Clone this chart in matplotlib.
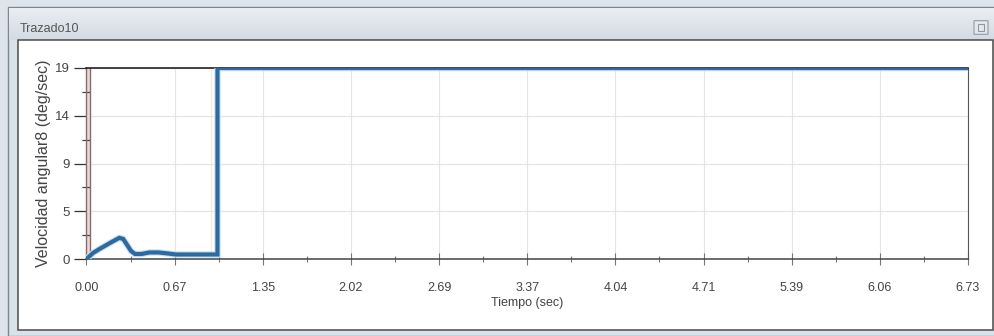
import matplotlib
matplotlib.use("Agg")
import matplotlib.pyplot as plt
from matplotlib.patches import Rectangle, FancyBboxPatch
import numpy as np

# angular velocity trace (deg/sec) vs time (sec)
TIME = [0.00, 0.05, 0.10, 0.18, 0.25, 0.28, 0.31, 0.34, 0.37, 0.42, 0.48,
        0.55, 0.62, 0.68, 0.80, 1.00, 1.00, 6.73]
VEL = [0.0, 0.6, 1.0, 1.6, 2.1, 2.0, 1.4, 0.8, 0.5, 0.5, 0.65,
       0.65, 0.55, 0.45, 0.45, 0.45, 19.0, 19.0]

XTICKS = [0.00, 0.673, 1.346, 2.019, 2.692, 3.365, 4.038, 4.711, 5.384, 6.057, 6.73]
XLABELS = ["0.00", "0.67", "1.35", "2.02", "2.69", "3.37", "4.04", "4.71", "5.39", "6.06", "6.73"]
YTICKS = [0, 4.75, 9.5, 14.25, 19]
YLABELS = ["0", "5", "9", "14", "19"]

W, H = 995, 336
fig = plt.figure(figsize=(W / 100, H / 100), dpi=100)
fig.patch.set_facecolor("#dde4ec")


def px(x, y, w, h):
    # figure-fraction rectangle from pixel box (top-left origin)
    return (x / W, 1 - (y + h) / H), w / W, h / H


# window frame and title bar
xy, w, h = px(8, 7, 987, 329)
fig.patches.append(Rectangle(xy, w, h, transform=fig.transFigure, zorder=-20,
                             facecolor="#d9e1ea", edgecolor="#7f868e", lw=1))
grad = np.linspace(0, 1, 50).reshape(-1, 1)
bar = fig.add_axes([9 / W, 1 - 40 / H, 985 / W, 32 / H], zorder=-15)
bar.imshow(grad, aspect="auto", cmap=matplotlib.colors.LinearSegmentedColormap.from_list(
    "bar", ["#e9eef3", "#d2dae3"]), extent=(0, 1, 0, 1))
bar.set_axis_off()
fig.text(20 / W, 1 - 29 / H, "Trazado10", fontsize=9, color="#555555",
         family="Liberation Sans", va="center", ha="left")
xy, w, h = px(975, 21, 12, 13)
fig.patches.append(FancyBboxPatch(xy, w, h, boxstyle="round,pad=0.001",
                                  transform=fig.transFigure, facecolor="#e4e9ef",
                                  edgecolor="#9aa2ab", lw=0.9))
xy, w, h = px(978, 24.5, 6, 6)
fig.patches.append(Rectangle(xy, w, h, transform=fig.transFigure,
                             facecolor="none", edgecolor="#8f979f", lw=0.8))

# white plot panel
xy, w, h = px(18, 40, 975, 290)
fig.patches.append(Rectangle(xy, w, h, transform=fig.transFigure, zorder=-10,
                             facecolor="white", edgecolor="#4a4a4a", lw=1.1))

ax = fig.add_axes([86.5 / W, 1 - 259 / H, 881.5 / W, 191 / H])
ax.set_facecolor("none")
ax.set_xlim(0, 6.73)
ax.set_ylim(0, 19)

ax.set_xticks(XTICKS)
ax.set_xticklabels(XLABELS)
ax.set_xticks([(a + b) / 2 for a, b in zip(XTICKS[:-1], XTICKS[1:])], minor=True)
ax.set_yticks(YTICKS)
ax.set_yticklabels(YLABELS)
ax.set_yticks([(a + b) / 2 for a, b in zip(YTICKS[:-1], YTICKS[1:])], minor=True)

ax.grid(True, which="major", color="#e4e4e4", lw=0.8)
ax.tick_params(axis="x", which="major", direction="inout", length=9, width=0.8,
               color="#777777", pad=12, labelsize=9, labelcolor="#444444")
ax.tick_params(axis="x", which="minor", direction="inout", length=5, width=0.8,
               color="#777777")
ax.tick_params(axis="y", which="major", direction="out", length=9, width=0.9,
               color="#333333", pad=3, labelsize=9.5, labelcolor="#444444")
ax.tick_params(axis="y", which="minor", direction="inout", length=6, width=0.9,
               color="#444444")
for lab in ax.get_xticklabels() + ax.get_yticklabels():
    lab.set_family("Liberation Sans")

ax.spines["top"].set_color("#111111")
ax.spines["top"].set_linewidth(1.1)
ax.spines["bottom"].set_color("#444444")
ax.spines["bottom"].set_linewidth(1.1)
ax.spines["right"].set_color("#555555")
ax.spines["left"].set_color("#8a6a6a")
ax.spines["left"].set_linewidth(1.0)

# time cursor at the start of the trace
ax.axvspan(0.0, 0.03, color="#ead8d8", lw=0, zorder=1)
ax.axvline(0.03, color="#8a6a6a", lw=1.0, zorder=2)
ax.axvline(0.95, color="#fbeadf", lw=1.0, zorder=0.5)

ax.plot(TIME, VEL, color="#c8def0", lw=4.6, solid_joinstyle="miter", zorder=3)
ax.plot(TIME, VEL, color="#2c6a9f", lw=3.0, solid_joinstyle="miter", zorder=4)

ax.set_xlabel("Tiempo (sec)", fontsize=9, color="#444444", family="Liberation Sans")
ax.xaxis.set_label_coords(0.5, -0.2)
ax.set_ylabel("Velocidad angular8 (deg/sec)", fontsize=11.5, color="#444444",
              family="Liberation Sans")
ax.yaxis.set_label_coords(-0.04, 0.5)

fig.savefig("out.png", dpi=100, facecolor=fig.get_facecolor())
